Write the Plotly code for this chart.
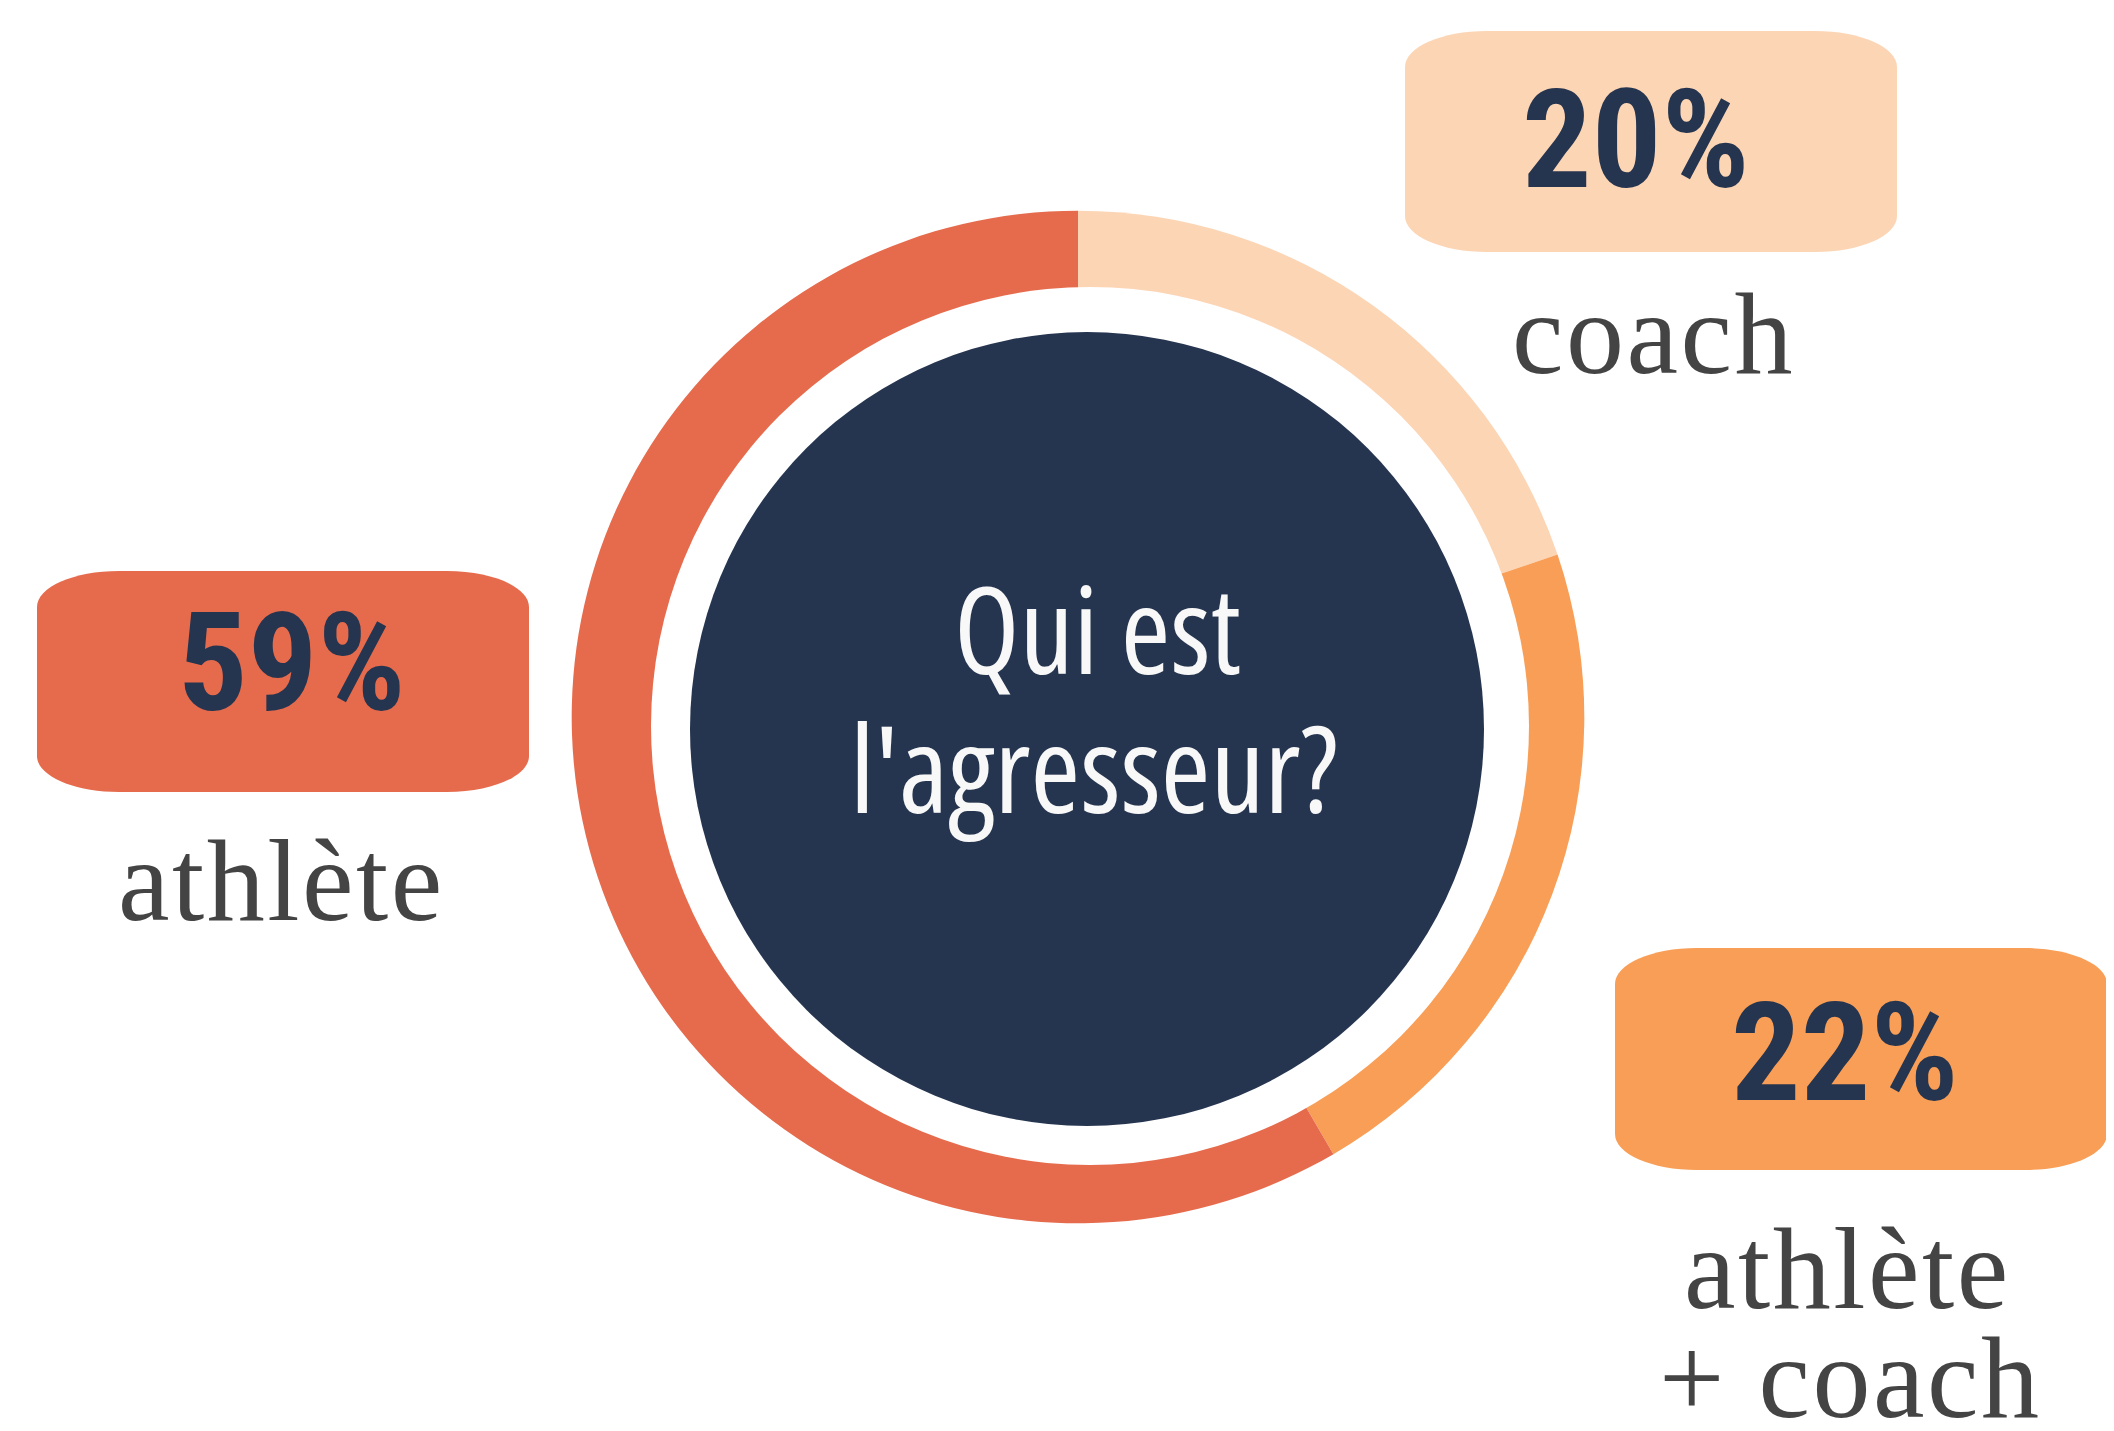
import plotly.graph_objects as go

# ---- data ----
categories = ["coach", "athlète + coach", "athlète"]
values = [20, 22, 59]
pct_labels = ["20%", "22%", "59%"]
colors = ["#FCD5B5", "#F89E56", "#E66B4D"]
name_lines = [["coach"], ["athlète", "+ coach"], ["athlète"]]
center_lines = ["Qui est", "l'agresseur?"]

# page is 2114x1431; the html body has an 8px margin, so the figure is
# drawn 8px smaller on each side and all page positions are shifted by OFF
OFF = 8
W, H = 2114 - 2 * OFF, 1431 - 2 * OFF
NAVY = "#26354F"
GRAY = "#444444"
COND = "Roboto, sans-serif"
COND2 = "Open Sans, Roboto, sans-serif"
SERIF = "Liberation Serif, DejaVu Serif, serif"


def px(v):
    return v - OFF


fig = go.Figure()

# donut ring (full pie, hole drawn with shapes on top)
cx, cy, R = px(1078), px(717), 506.3
fig.add_trace(go.Pie(
    labels=categories, values=values, sort=False, direction="clockwise",
    rotation=0, hole=0, textinfo="none", hoverinfo="label+percent",
    marker=dict(colors=colors, line=dict(width=0)), showlegend=False,
    domain=dict(x=[(cx - R) / W, (cx + R) / W], y=[1 - (cy + R) / H, 1 - (cy - R) / H]),
))

# invisible scatter so the pixel-like cartesian axes exist
fig.add_trace(go.Scatter(x=[0, W], y=[0, H], mode="markers", marker=dict(opacity=0),
                         hoverinfo="skip", showlegend=False))

shapes = []
hx, hy, hr = px(1090), px(726), 439
shapes.append(dict(type="circle", xref="x", yref="y", x0=hx - hr, x1=hx + hr,
                   y0=hy - hr, y1=hy + hr, fillcolor="white", line=dict(width=0), layer="above"))
nx, ny, nr = px(1087), px(729), 397
shapes.append(dict(type="circle", xref="x", yref="y", x0=nx - nr, x1=nx + nr,
                   y0=ny - nr, y1=ny + nr, fillcolor=NAVY, line=dict(width=0), layer="above"))


def rounded_box(x0, y0, x1, y1, rx, ry):
    k = 0.5523
    return (f"M {x0+rx},{y0} L {x1-rx},{y0} "
            f"C {x1-rx+k*rx},{y0} {x1},{y0+ry-k*ry} {x1},{y0+ry} "
            f"L {x1},{y1-ry} "
            f"C {x1},{y1-ry+k*ry} {x1-rx+k*rx},{y1} {x1-rx},{y1} "
            f"L {x0+rx},{y1} "
            f"C {x0+rx-k*rx},{y1} {x0},{y1-ry+k*ry} {x0},{y1-ry} "
            f"L {x0},{y0+ry} "
            f"C {x0},{y0+ry-k*ry} {x0+rx-k*rx},{y0} {x0+rx},{y0} Z")


boxes = [  # coach, athlete+coach, athlete (page pixels)
    (1405, 31, 1897, 252),
    (1615, 948, 2107, 1170),
    (37, 571, 529, 792),
]
for (x0, y0, x1, y1), c in zip(boxes, colors):
    shapes.append(dict(type="path", xref="x", yref="y",
                       path=rounded_box(px(x0), px(y0), px(x1), px(y1), 82, 36),
                       fillcolor=c, line=dict(width=0), layer="above"))

ann = []
pct_pos = [(1636, 140), (1845, 1053), (292, 663)]
for t, (x, y) in zip(pct_labels, pct_pos):
    ann.append(dict(x=px(x), y=px(y), xref="x", yref="y",
                    text=f'<span style="font-stretch:condensed">{t}</span>', showarrow=False,
                    xanchor="center", yanchor="middle",
                    font=dict(family=COND, size=138, color=NAVY, weight="bold")))

name_pos = [[(1653, 334)], [(1847, 1269), (1850, 1378)], [(281, 881)]]
for lines, poss in zip(name_lines, name_pos):
    for t, (x, y) in zip(lines, poss):
        ann.append(dict(x=px(x), y=px(y), xref="x", yref="y",
                        text=f'<span style="letter-spacing:2.5px">{t}</span>', showarrow=False,
                        xanchor="center", yanchor="middle",
                        font=dict(family=SERIF, size=116, color=GRAY)))

for t, x, y in zip(center_lines, [1097, 1094], [627, 766]):
    ann.append(dict(x=px(x), y=px(y), xref="x", yref="y",
                    text=f'<span style="font-stretch:condensed">{t}</span>', showarrow=False,
                    xanchor="center", yanchor="middle",
                    font=dict(family=COND2, size=120, color="#F8F8F8", weight=500)))

fig.update_layout(
    width=W, height=H, margin=dict(l=0, r=0, t=0, b=0),
    paper_bgcolor="white", plot_bgcolor="white",
    xaxis=dict(range=[0, W], visible=False, domain=[0, 1], fixedrange=True),
    yaxis=dict(range=[H, 0], visible=False, domain=[0, 1], fixedrange=True),
    shapes=shapes, annotations=ann,
)

fig.write_html("out.html")
